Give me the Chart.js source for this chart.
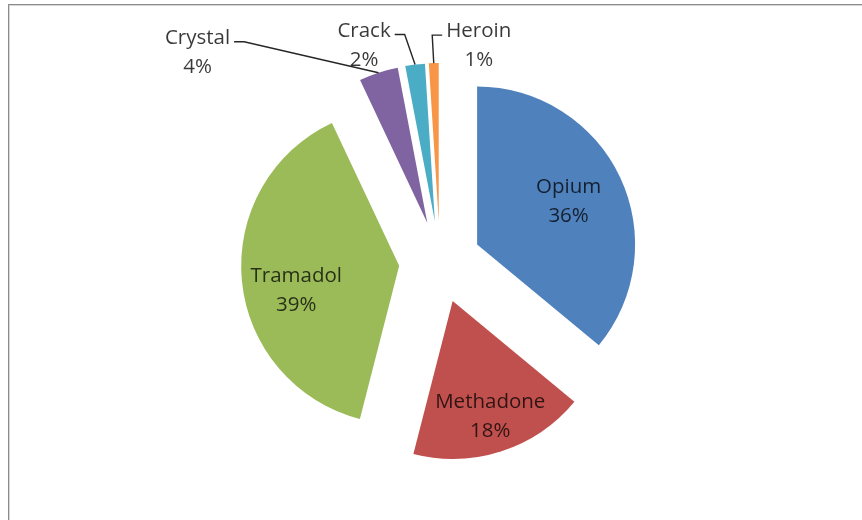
<!DOCTYPE html>
<html>
<head>
<meta charset="utf-8">
<title>Drug use</title>
<script src="https://cdn.jsdelivr.net/npm/chart.js@4.4.1/dist/chart.umd.min.js"></script>
<style>
  html, body { margin: 0; padding: 0; background: #fff; overflow: hidden; }
  #wrap { position: relative; width: 862px; height: 520px; overflow: hidden; }
  #frame {
    position: absolute; left: 8px; top: 4px; width: 900px; height: 560px;
    border-top: 1px solid #8c8c8c; border-left: 1px solid #8c8c8c;
    box-shadow: inset 1px 1px 0 #d6d6d6;
  }
  #pie { position: absolute; left: 0; top: 0; }
</style>
</head>
<body>
<div id="wrap">
  <div id="frame"></div>
  <canvas id="pie" width="862" height="520"></canvas>
</div>
<script>
const drugs = ["Opium", "Methadone", "Tramadol", "Crystal", "Crack", "Heroin"];
const shares = [36, 18, 39, 4, 2, 1];
const sliceColors = ["#4F81BD", "#C0504D", "#9BBB59", "#8064A2", "#4BACC6", "#F79646"];

const RADIUS = 158;
const EXPLODE = 41;          // how far every slice is pulled out from the centre
const FONT = '20.5px "Open Sans", "Noto Sans", sans-serif';
const LINE = 29;

// labels drawn on the slice: [fraction of radius from the slice tip, angle shift in degrees]
const insideLabels = {
  Opium: [0.64, 0],
  Methadone: [0.77, 0],
  Tramadol: [0.67, -8]
};
// labels with a leader line: offset of the label centre from the slice's outer edge,
// and which side of the text the line leaves from
const calloutLabels = {
  Crystal: [-181, -20, "right"],
  Crack: [-51, -19, "right"],
  Heroin: [45, -17, "left"]
};

// pull each slice out along its bisector, the way an exploded pie looks
const explodePlugin = {
  id: "explode",
  beforeDatasetDraw(chart, args) {
    const ctx = chart.ctx;
    args.meta.data.forEach((arc) => {
      const mid = (arc.startAngle + arc.endAngle) / 2;
      ctx.save();
      ctx.translate(Math.cos(mid) * EXPLODE, Math.sin(mid) * EXPLODE);
      arc.draw(ctx, chart.chartArea);
      ctx.restore();
    });
    return false;
  }
};

const labelPlugin = {
  id: "sliceLabels",
  afterDatasetsDraw(chart) {
    const ctx = chart.ctx;
    const meta = chart.getDatasetMeta(0);
    const total = shares.reduce((a, b) => a + b, 0);
    ctx.save();
    ctx.font = FONT;
    ctx.textAlign = "center";
    ctx.textBaseline = "middle";
    meta.data.forEach((arc, i) => {
      const name = drugs[i];
      const pct = Math.round((shares[i] / total) * 100) + "%";
      const mid = (arc.startAngle + arc.endAngle) / 2;
      const tipX = arc.x + Math.cos(mid) * EXPLODE;
      const tipY = arc.y + Math.sin(mid) * EXPLODE;

      if (insideLabels[name]) {
        const [f, shift] = insideLabels[name];
        const a = mid + (shift * Math.PI) / 180;
        const cx = tipX + Math.cos(a) * arc.outerRadius * f;
        const cy = tipY + Math.sin(a) * arc.outerRadius * f;
        ctx.fillStyle = "rgba(0,0,0,0.75)";
        ctx.fillText(name, cx, cy - LINE / 2);
        ctx.fillText(pct, cx, cy + LINE / 2);
        return;
      }

      const [dx, dy, side] = calloutLabels[name];
      const ax = tipX + Math.cos(mid) * arc.outerRadius;
      const ay = tipY + Math.sin(mid) * arc.outerRadius;
      const cx = ax + dx;
      const cy = ay + dy;
      ctx.fillStyle = "rgba(0,0,0,0.78)";
      ctx.fillText(name, cx, cy - LINE / 2);
      ctx.fillText(pct, cx, cy + LINE / 2);

      const w = ctx.measureText(name).width;
      const ly = cy - LINE / 2 + 3.5;
      const x0 = side === "right" ? cx + w / 2 + 4 : cx - w / 2 - 4;
      const x1 = side === "right" ? x0 + 10 : x0 - 10;
      ctx.strokeStyle = "#262626";
      ctx.lineWidth = 1.4;
      ctx.beginPath();
      ctx.moveTo(x0, ly);
      ctx.lineTo(x1, ly);
      ctx.lineTo(ax, ay);
      ctx.stroke();
    });
    ctx.restore();
  }
};

new Chart(document.getElementById("pie"), {
  type: "pie",
  data: {
    labels: drugs,
    datasets: [{
      data: shares,
      backgroundColor: sliceColors,
      borderWidth: 0
    }]
  },
  options: {
    responsive: false,
    animation: false,
    events: [],
    radius: RADIUS,
    layout: { padding: { left: 18, top: 4, right: 0, bottom: 0 } },
    plugins: {
      legend: { display: false },
      tooltip: { enabled: false }
    }
  },
  plugins: [explodePlugin, labelPlugin]
});
</script>
</body>
</html>
